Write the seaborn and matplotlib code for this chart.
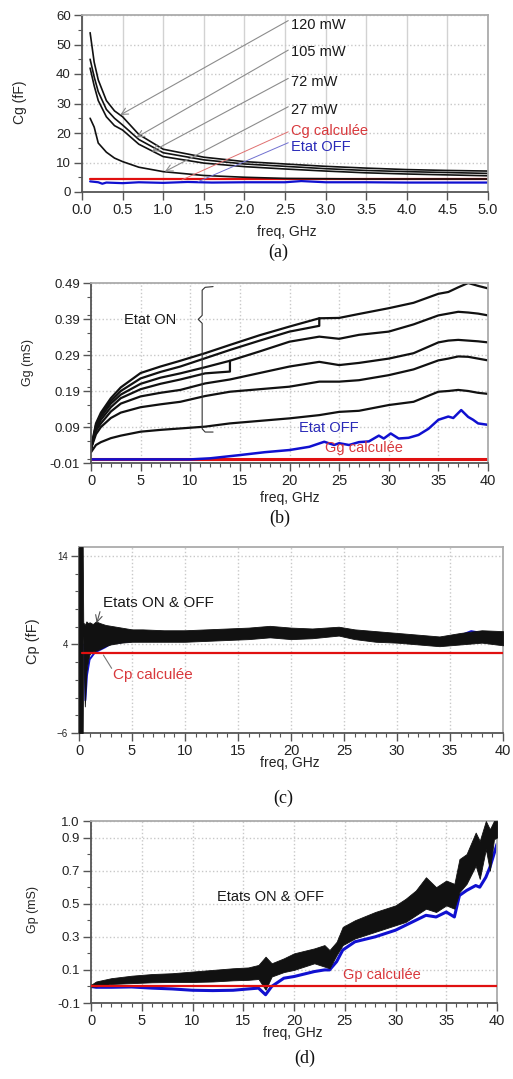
import numpy as np
import pandas as pd
import matplotlib
matplotlib.use("Agg")
import matplotlib.pyplot as plt
from matplotlib.ticker import FormatStrFormatter, MultipleLocator
import seaborn as sns

W, H = 513, 1079

# ---------------- (a) Cg vs freq ----------------
cg_freq = [0.1, 0.15, 0.2, 0.3, 0.4, 0.5, 0.7, 1.0, 1.5, 2.0, 2.5, 3.0, 3.5, 4.0, 4.5, 5.0]
cg_120 = [54, 44, 38, 31, 27.5, 25.5, 19.5, 14.5, 11.8, 10.3, 9.5, 8.7, 8.1, 7.6, 7.3, 7.1]
cg_105 = [45, 39, 34, 28, 25, 22.7, 17.8, 13.3, 10.9, 9.5, 8.7, 7.9, 7.3, 6.9, 6.6, 6.3]
cg_72 = [42, 36, 31, 25.5, 22.5, 21, 16.2, 12.0, 9.8, 8.6, 7.8, 7.1, 6.5, 6.1, 5.8, 5.5]
cg_27 = [25, 22, 16.6, 13.5, 11.5, 10.3, 8.4, 6.9, 5.6, 5.0, 4.6, 4.5, 4.4, 4.4, 4.4, 4.4]
cg_off_freq = [0.1, 0.2, 0.25, 0.3, 0.5, 0.7, 1.0, 1.3, 1.6, 2.0, 2.5, 2.7, 3.0, 3.5, 4.0, 4.5, 5.0]
cg_off = [3.6, 3.3, 2.8, 3.2, 3.0, 3.3, 3.1, 3.4, 3.2, 3.3, 3.3, 3.7, 3.3, 3.3, 3.2, 3.2, 3.2]
CG_CALC = 4.3
cg_powers = ["120 mW", "105 mW", "72 mW", "27 mW"]

# ---------------- (b) Gg vs freq ----------------
gg_x1 = [0, 0.5, 1, 2, 3, 5, 7, 9, 11.5, 14, 17, 20, 23]
gg_x2 = [25, 27, 30, 32.5, 35, 36, 37, 38, 39, 40]
gg_a1 = [0.03, 0.10, 0.13, 0.17, 0.20, 0.24, 0.258, 0.274, 0.295, 0.318, 0.345, 0.369, 0.392]
gg_b1 = [0.03, 0.095, 0.125, 0.162, 0.19, 0.225, 0.243, 0.258, 0.281, 0.304, 0.33, 0.355, 0.371]
gg_c1 = [0.03, 0.09, 0.118, 0.155, 0.18, 0.21, 0.227, 0.239, 0.256, 0.274, 0.30, 0.327, 0.341]
gg_d1 = [0.03, 0.085, 0.11, 0.145, 0.17, 0.195, 0.21, 0.222, 0.239, 0.244]
gg_e1 = [0.03, 0.08, 0.10, 0.133, 0.155, 0.175, 0.185, 0.193, 0.211, 0.222, 0.24, 0.258, 0.271]
gg_f1 = [0.03, 0.07, 0.09, 0.115, 0.13, 0.145, 0.153, 0.160, 0.176, 0.188, 0.195, 0.202, 0.216]
gg_g1 = [0.02, 0.04, 0.048, 0.059, 0.066, 0.077, 0.082, 0.086, 0.091, 0.10, 0.107, 0.114, 0.123]
gg_a2 = [0.393, 0.404, 0.42, 0.435, 0.46, 0.465, 0.478, 0.49, 0.482, 0.475]
gg_c2 = [0.335, 0.346, 0.355, 0.375, 0.40, 0.405, 0.41, 0.408, 0.405, 0.40]
gg_e2 = [0.262, 0.268, 0.28, 0.295, 0.325, 0.33, 0.332, 0.33, 0.328, 0.325]
gg_f2 = [0.216, 0.22, 0.234, 0.25, 0.275, 0.28, 0.286, 0.285, 0.28, 0.275]
gg_g2 = [0.132, 0.135, 0.151, 0.16, 0.188, 0.19, 0.193, 0.19, 0.185, 0.182]
gg_off_freq = [0, 5, 10, 12, 15, 17.5, 20, 22, 23.5, 24.5, 25, 26, 27, 28, 29,
               29.5, 30.2, 31, 32, 33, 34, 35, 36, 36.5, 37.3, 38, 38.5, 39, 40]
gg_off = [0.0, 0.0, 0.0, 0.003, 0.012, 0.02, 0.026, 0.035, 0.049, 0.04, 0.045, 0.04, 0.048, 0.05, 0.066,
          0.058, 0.072, 0.058, 0.06, 0.068, 0.085, 0.11, 0.119, 0.115, 0.137, 0.118, 0.11, 0.1, 0.096]
GG_CALC = 0.0

# ---------------- (c) Cp vs freq ----------------
cp_freq = [0.0, 0.35, 0.4, 0.55, 0.7, 0.85, 1.0, 1.3, 1.6, 2.0, 2.5, 3.0, 4.0, 5.0, 6.0, 8.0,
           10.0, 12.0, 14.0, 16.0, 18.0, 20.0, 22.0, 24.5, 26.0, 28.0, 30.0, 32.0, 34.0, 36.0, 38.0, 40.0]
cp_upper = [15, 15, 6.5, 6.2, 6.6, 6.4, 6.5, 6.3, 6.6, 6.4, 6.2, 6.1, 5.9, 5.7, 5.7, 5.6,
            5.6, 5.7, 5.8, 5.9, 6.1, 5.9, 5.8, 6.0, 5.7, 5.5, 5.3, 5.1, 4.9, 5.3, 5.6, 5.5]
cp_lower = [-6, -6, 5.0, -3.0, 1.0, 2.2, 2.9, 3.2, 3.3, 3.5, 3.8, 4.0, 4.2, 4.3, 4.3, 4.3,
            4.3, 4.4, 4.5, 4.6, 4.8, 4.6, 4.7, 5.0, 4.6, 4.3, 4.2, 4.0, 3.8, 4.0, 4.2, 3.9]
cp_off_freq = [0.5, 0.6, 0.75, 1.0, 1.5, 2.0, 2.5, 3.0, 5.0, 10, 15, 20, 24.5, 28, 30, 34, 37, 40]
cp_off = [4.0, -2.3, 0.5, 2.3, 3.1, 3.4, 3.7, 4.1, 4.4, 4.6, 4.8, 4.9, 5.4, 5.3, 5.0, 4.1, 5.5, 4.9]
CP_CALC = 3.0

# ---------------- (d) Gp vs freq ----------------
gp_freq = [0, 0.5, 2, 4, 6, 8, 10, 12, 14, 15.5, 16.5, 17.2, 17.8, 19, 20, 22, 23, 23.5, 24.2,
           24.8, 26, 28, 30, 31, 32, 33, 34, 35, 35.8, 36.3, 37, 37.9, 38.3, 38.9, 39.3, 39.7, 40]
gp_upper = [0.01, 0.03, 0.05, 0.065, 0.075, 0.08, 0.09, 0.1, 0.11, 0.115, 0.13, 0.18, 0.14, 0.17, 0.2,
            0.23, 0.25, 0.22, 0.27, 0.36, 0.4, 0.45, 0.49, 0.53, 0.58, 0.66, 0.6, 0.64, 0.62, 0.77,
            0.8, 0.93, 0.88, 1.0, 0.95, 1.0, 1.0]
gp_lower = [0.0, 0.0, 0.015, 0.02, 0.025, 0.027, 0.027, 0.03, 0.037, 0.04, 0.045, -0.02, 0.06, 0.087,
            0.1, 0.14, 0.12, 0.11, 0.19, 0.25, 0.29, 0.33, 0.37, 0.39, 0.43, 0.47, 0.45, 0.49, 0.47,
            0.57, 0.62, 0.73, 0.65, 0.83, 0.7, 0.89, 0.9]
gp_off = [0.0, -0.005, -0.005, -0.003, -0.01, -0.015, -0.023, -0.025, -0.023, -0.015, -0.01, -0.05, 0.0,
          0.05, 0.06, 0.09, 0.1, 0.1, 0.15, 0.22, 0.27, 0.3, 0.34, 0.37, 0.4, 0.43, 0.42, 0.45, 0.42,
          0.55, 0.58, 0.61, 0.6, 0.66, 0.72, 0.8, 0.86]
GP_CALC = 0.0

RED = "#e01010"
RED_TXT = "#d8383c"
BLUE = "#1010d0"
BLUE_TXT = "#2a2ab8"
BLACK = "#111111"

sns.set_theme(style="white")
plt.rcParams["font.family"] = ["Liberation Sans", "DejaVu Sans"]


def rect(l, r, t, b):
    return [l / W, 1 - b / H, (r - l) / W, (b - t) / H]


def style_axes(ax, xlim, ylim, xmaj, ymaj, xmin=None, ymin=None, xsize=10, ysize=9.5, solid_vgrid=False):
    ax.set_xlim(*xlim)
    ax.set_ylim(*ylim)
    ax.set_xticks(xmaj)
    ax.set_yticks(ymaj)
    if xmin is not None:
        ax.xaxis.set_minor_locator(MultipleLocator(xmin))
    if ymin is not None:
        ax.yaxis.set_minor_locator(MultipleLocator(ymin))
    if solid_vgrid:
        ax.xaxis.grid(True, which="major", color="#d2d2d2", ls="-", lw=1.0)
    else:
        ax.xaxis.grid(True, which="major", color="#c8c8c8", ls=":", lw=1.0)
    ax.yaxis.grid(True, which="major", color="#c8c8c8", ls=":", lw=1.0)
    ax.set_axisbelow(True)
    for side in ["left", "bottom"]:
        ax.spines[side].set_color("#555555")
        ax.spines[side].set_linewidth(1.3)
    for side in ["top", "right"]:
        ax.spines[side].set_color("#ababab")
        ax.spines[side].set_linewidth(1.3)
    ax.tick_params(which="major", direction="out", length=6, width=1.0, color="#555555", pad=2)
    ax.tick_params(which="minor", direction="out", length=3, width=0.8, color="#555555")
    ax.tick_params(axis="x", which="both", bottom=True, labelsize=xsize, labelcolor="#222222")
    ax.tick_params(axis="y", which="both", left=True, labelsize=ysize, labelcolor="#222222")
    ax.set_xlabel("")


def ftext(x, y, s, **kw):
    fig.text(x / W, 1 - y / H, s, ha="center", va="center", **kw)


fig = plt.figure(figsize=(W / 100, H / 100), dpi=100)

# ======================= (a) =======================
ax = fig.add_axes(rect(82, 488, 15, 192))
cg_df = pd.DataFrame({
    "freq": cg_freq * 4,
    "Cg": cg_120 + cg_105 + cg_72 + cg_27,
    "P": [p for p in cg_powers for _ in cg_freq],
})
sns.lineplot(x=cg_freq, y=[CG_CALC] * len(cg_freq), color=RED, lw=1.6, ax=ax)
sns.lineplot(x=cg_off_freq, y=cg_off, color=BLUE, lw=1.6, ax=ax)
sns.lineplot(data=cg_df, x="freq", y="Cg", units="P", estimator=None, color=BLACK, lw=1.2, ax=ax, legend=False)
style_axes(ax, (0, 5), (0, 60), np.arange(0, 5.01, 0.5), np.arange(0, 61, 10), ymin=5,
           xsize=10.5, ysize=9.5, solid_vgrid=True)
ax.xaxis.set_major_formatter(FormatStrFormatter("%.1f"))
ax.set_ylabel("Cg (fF)", fontsize=10, va="center")
ax.yaxis.set_label_coords(-0.153, 0.506)

arrow_targets = [(0.47, 26.1), (0.67, 18.5), (0.86, 13.7), (1.02, 6.9)]
label_y = [56.6, 47.6, 37.4, 27.8]
start_y = [58.1, 48.1, 38.5, 28.9]
for name, (tx, ty), ly, sy in zip(cg_powers, arrow_targets, label_y, start_y):
    ax.annotate("", xy=(tx, ty), xytext=(2.54, sy),
                arrowprops=dict(arrowstyle="->", color="#8c8c8c", lw=0.8, shrinkA=0, shrinkB=0))
    ax.text(2.58, ly, name, fontsize=10.5, color="#1a1a1a", va="center", ha="left")
ax.plot([2.54, 1.23], [20.4, 4.1], color="#e07070", lw=0.7)
ax.plot([2.54, 1.43], [16.7, 3.5], color="#7070d0", lw=0.7)
ax.text(2.58, 20.7, "Cg calculée", fontsize=10.5, color=RED_TXT, va="center", ha="left")
ax.text(2.58, 15.4, "Etat OFF", fontsize=10.5, color=BLUE_TXT, va="center", ha="left")
ftext(287, 232, "freq, GHz", fontsize=10, color="#222222")
ftext(278, 252, "(a)", fontsize=13, family=["Liberation Serif"], color="#111111")

# ======================= (b) =======================
ax = fig.add_axes(rect(91, 488, 283, 463))
gg_traces = {
    "A": (gg_x1, gg_a1),
    "B": (gg_x1 + [23] + gg_x2, gg_b1 + [gg_a1[-1]] + gg_a2),
    "C": (gg_x1 + gg_x2, gg_c1 + gg_c2),
    "D": (gg_x1[:10] + [14], gg_d1 + [gg_c1[9]]),
    "E": (gg_x1 + gg_x2, gg_e1 + gg_e2),
    "F": (gg_x1 + gg_x2, gg_f1 + gg_f2),
    "G": (gg_x1 + gg_x2, gg_g1 + gg_g2),
}
gg_df = pd.concat([pd.DataFrame({"freq": xs, "Gg": ys, "trace": k}) for k, (xs, ys) in gg_traces.items()],
                  ignore_index=True)
sns.lineplot(x=[0, 40], y=[GG_CALC, GG_CALC], color=RED, lw=2.2, ax=ax)
sns.lineplot(x=gg_off_freq, y=gg_off, color=BLUE, lw=1.8, ax=ax)
sns.lineplot(data=gg_df, x="freq", y="Gg", units="trace", estimator=None, sort=False,
             color=BLACK, lw=1.6, ax=ax, legend=False)
style_axes(ax, (0, 40), (-0.01, 0.49), np.arange(0, 41, 5), [-0.01, 0.09, 0.19, 0.29, 0.39, 0.49],
           xmin=1, xsize=10.5, ysize=9.5)
ax.yaxis.set_minor_locator(MultipleLocator(0.05))
ax.yaxis.set_major_formatter(FormatStrFormatter("%.2f"))
ax.set_ylabel("Gg (mS)", fontsize=9, va="center")
ax.yaxis.set_label_coords(-0.158, 0.56)
ax.plot([12.3, 11.5, 11.2, 11.2, 10.8, 11.2, 11.2, 11.5, 12.3],
        [0.48, 0.478, 0.47, 0.40, 0.389, 0.378, 0.085, 0.076, 0.076], color="#333333", lw=0.8)
ax.text(6.0, 0.387, "Etat ON", fontsize=10.5, color="#1a1a1a", ha="center", va="center")
ax.text(21.0, 0.087, "Etat OFF", fontsize=10.5, color=BLUE_TXT, ha="left", va="center")
ax.text(23.6, 0.032, "Gg calculée", fontsize=10.5, color=RED_TXT, ha="left", va="center")
ftext(290, 498, "freq, GHz", fontsize=10, color="#222222")
ftext(280, 518, "(b)", fontsize=13, family=["Liberation Serif"], color="#111111")

# ======================= (c) =======================
ax = fig.add_axes(rect(79, 503, 547, 733))
sns.lineplot(x=cp_off_freq, y=cp_off, color=BLUE, lw=1.4, sort=False, ax=ax)
ax.fill_between(cp_freq, cp_lower, cp_upper, color=BLACK, lw=0.6, edgecolor=BLACK, zorder=3)
sns.lineplot(x=[0.3, 40], y=[CP_CALC, CP_CALC], color=RED, lw=1.6, ax=ax, zorder=4)
style_axes(ax, (0, 40), (-6, 15), np.arange(0, 41, 5), [-6, 4, 14], xmin=1, ymin=2,
           xsize=10.5, ysize=7)
ax.set_ylabel("Cp (fF)", fontsize=10.5, va="center")
ax.yaxis.set_label_coords(-0.108, 0.496)
ax.annotate("", xy=(1.67, 6.4), xytext=(1.98, 7.7),
            arrowprops=dict(arrowstyle="->", color="#555555", lw=0.8, shrinkA=0, shrinkB=0))
ax.plot([3.08, 2.3], [1.3, 2.8], color="#777777", lw=0.8)
ax.text(2.26, 8.64, "Etats ON & OFF", fontsize=11, color="#1a1a1a", ha="left", va="center")
ax.text(3.2, 0.52, "Cp calculée", fontsize=11, color=RED_TXT, ha="left", va="center")
ftext(290, 763, "freq, GHz", fontsize=10, color="#222222")
ftext(283, 798, "(c)", fontsize=13, family=["Liberation Serif"], color="#111111")

# ======================= (d) =======================
ax = fig.add_axes(rect(91, 497, 821, 1003))
sns.lineplot(x=gp_freq, y=gp_off, color=BLUE, lw=2.2, ax=ax)
ax.fill_between(gp_freq, gp_lower, gp_upper, color=BLACK, lw=0.6, edgecolor=BLACK, zorder=3)
sns.lineplot(x=[0, 40], y=[GP_CALC, GP_CALC], color=RED, lw=1.6, ax=ax, zorder=4)
style_axes(ax, (0, 40), (-0.1, 1.0), np.arange(0, 41, 5), [-0.1, 0.1, 0.3, 0.5, 0.7, 0.9, 1.0],
           xmin=1, ymin=0.1, xsize=10.5, ysize=9.5)
ax.yaxis.set_major_formatter(FormatStrFormatter("%.1f"))
ax.set_ylabel("Gp (mS)", fontsize=9, va="center")
ax.yaxis.set_label_coords(-0.142, 0.516)
ax.text(17.7, 0.539, "Etats ON & OFF", fontsize=10.5, color="#1a1a1a", ha="center", va="center")
ax.text(28.7, 0.067, "Gp calculée", fontsize=10.5, color=RED_TXT, ha="center", va="center")
ftext(293, 1033, "freq, GHz", fontsize=10, color="#222222")
ftext(305, 1058, "(d)", fontsize=13, family=["Liberation Serif"], color="#111111")

fig.savefig("out.png", dpi=100, facecolor="white")
